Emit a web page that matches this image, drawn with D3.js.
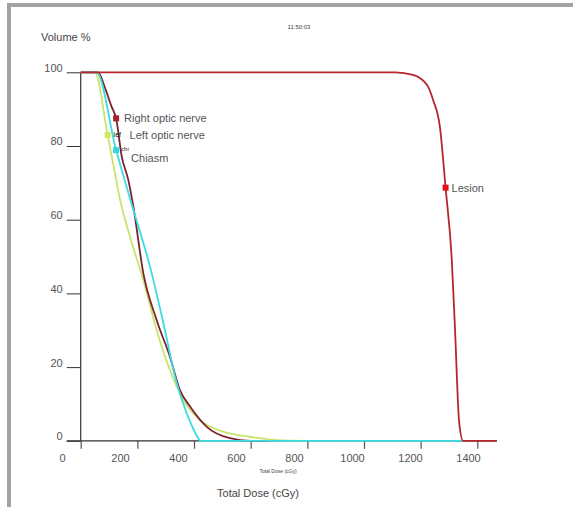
<!DOCTYPE html>
<html>
<head>
<meta charset="utf-8">
<script src="https://cdn.jsdelivr.net/npm/d3@7"></script>
<style>
  html, body { margin: 0; padding: 0; background: #fff; }
  svg { display: block; }
  text { font-family: "Liberation Sans", Arial, sans-serif; }
</style>
</head>
<body>
<svg id="chart" width="573" height="507"></svg>
<script>
// ---- data ----
const xTicks = [0, 200, 400, 600, 800, 1000, 1200, 1400];
const yTicks = [0, 20, 40, 60, 80, 100];

const lesionDose   = [0, 1110, 1173, 1222, 1244, 1268, 1288, 1310, 1321, 1336, 1350, 1468];
const lesionVol    = [100, 100, 99.3, 96.6, 92.5, 85.2, 68.7, 49.0, 30.9, 5.0, 0, 0];

const rightDose    = [0, 62, 86, 109, 125, 145, 168, 186, 221, 268, 315, 350, 386, 445, 527, 598, 660];
const rightVol     = [100, 100, 95.7, 90.7, 87.5, 77.1, 70.8, 63.5, 45.5, 32.8, 22.8, 13.8, 9.3, 3.8, 0.7, 0, 0];

const leftDose     = [0, 50, 95, 121, 139, 174, 221, 268, 315, 362, 421, 503, 598, 692, 798];
const leftVol      = [100, 100, 83.0, 72.6, 65.4, 55.4, 43.6, 30.1, 19.2, 11.1, 5.6, 2.5, 1.1, 0.2, 0];

const chiasmDose   = [0, 56, 125, 150, 186, 245, 292, 339, 374, 415, 421, 1350];
const chiasmVol    = [100, 100, 78.9, 72.1, 62.6, 47.2, 31.9, 15.6, 7.5, 0.7, 0, 0];

const seriesNames  = ["Left optic nerve", "Right optic nerve", "Chiasm", "Lesion"];
const lineColors   = ["#c8e46a", "#7b2230", "#3ddbe2", "#b3272d"];
const markerColors = ["#c8ec5a", "#a8222c", "#33d9e2", "#e4101a"];
const markerDose   = [95, 125, 125, 1288];
const markerVol    = [83.0, 87.5, 78.9, 68.7];

// ---- layout ----
const svg = d3.select("#chart");
const x = d3.scaleLinear().domain([0, 1400]).range([80.7, 477.3]);
const xl = d3.scaleLinear().domain([0, 1400]).range([62, 468]); // label positions (offset as in reference)
const y = d3.scaleLinear().domain([0, 100]).range([440.8, 72.3]);

// frame
svg.append("rect").attr("x", 9).attr("y", 5).attr("width", 600).attr("height", 600)
  .attr("fill", "none").attr("stroke", "#a3a3a3").attr("stroke-width", 4);

// tiny header text
svg.append("text").attr("x", 299).attr("y", 29).attr("text-anchor", "middle")
  .attr("font-size", 6).attr("fill", "#444").text("11:50:03");

// y axis
const yAxis = d3.axisLeft(y).tickValues(yTicks).tickSize(14).tickPadding(4).tickFormat(d3.format("d"));
const gy = svg.append("g").attr("transform", "translate(80.7,0)").call(yAxis);
gy.select(".domain").remove();
gy.selectAll(".tick line").attr("stroke", "#333").attr("stroke-width", 1);
gy.selectAll(".tick text").attr("font-size", 11).attr("fill", "#555")
  .attr("font-family", "Liberation Sans, Arial, sans-serif").attr("dy", "-0.1em");
svg.append("line").attr("x1", 80.7).attr("x2", 80.7).attr("y1", y(100)).attr("y2", y(0))
  .attr("stroke", "#333").attr("stroke-width", 1.2);

// x axis ticks
const xAxis = d3.axisBottom(x).tickValues(xTicks).tickSize(8).tickFormat("");
const gx = svg.append("g").attr("transform", `translate(0,${y(0)})`).call(xAxis);
gx.select(".domain").remove();
gx.selectAll(".tick line").attr("stroke", "#555").attr("stroke-width", 1.2);
svg.append("line").attr("x1", 66.7).attr("x2", 497).attr("y1", y(0)).attr("y2", y(0))
  .attr("stroke", "#333").attr("stroke-width", 1.2);

// x axis labels
const xLab = d3.axisBottom(xl).tickValues(xTicks).tickSize(0).tickPadding(13).tickFormat(d3.format("d"));
const gxl = svg.append("g").attr("transform", `translate(0,${y(0)})`).call(xLab);
gxl.select(".domain").remove();
gxl.selectAll(".tick text").attr("font-size", 11).attr("fill", "#555")
  .attr("font-family", "Liberation Sans, Arial, sans-serif");

// axis titles
svg.append("text").attr("x", 41).attr("y", 41).attr("font-size", 11).attr("fill", "#444")
  .text("Volume %");
svg.append("text").attr("x", 258).attr("y", 497).attr("text-anchor", "middle")
  .attr("font-size", 11).attr("fill", "#444").text("Total Dose (cGy)");
svg.append("text").attr("x", 278).attr("y", 473).attr("text-anchor", "middle")
  .attr("font-size", 5).attr("fill", "#444").text("Total Dose (cGy)");

// lines
const line = d3.line().x(d => x(d[0])).y(d => y(d[1])).curve(d3.curveMonotoneX);
const allDose = [leftDose, rightDose, chiasmDose, lesionDose];
const allVol = [leftVol, rightVol, chiasmVol, lesionVol];
allDose.forEach((ds, i) => {
  const pts = ds.map((d, j) => [d, allVol[i][j]]);
  svg.append("path").datum(pts).attr("d", line).attr("fill", "none")
    .attr("stroke", lineColors[i]).attr("stroke-width", 1.8);
});

// markers
markerDose.forEach((d, i) => {
  svg.append("rect").attr("x", x(d) - 3).attr("y", y(markerVol[i]) - 3)
    .attr("width", 6).attr("height", 6).attr("fill", markerColors[i]);
});

// labels
const labelDx = [22, 8, 15, 6];
const labelDy = [4, 4, 12, 4];
seriesNames.forEach((name, i) => {
  svg.append("text").attr("x", x(markerDose[i]) + labelDx[i]).attr("y", y(markerVol[i]) + labelDy[i])
    .attr("font-size", 11).attr("fill", "#555").text(name);
});
// tiny overlapping labels
svg.append("text").attr("x", x(markerDose[0]) + 6).attr("y", y(markerVol[0]) + 2)
  .attr("font-size", 7).attr("font-family", "DejaVu Sans Mono, monospace").attr("fill", "#111").text("lef");
svg.append("text").attr("x", x(markerDose[2]) + 5).attr("y", y(markerVol[2]) + 1)
  .attr("font-size", 6).attr("font-family", "DejaVu Sans Mono, monospace").attr("fill", "#222").text("chi");
</script>
</body>
</html>
